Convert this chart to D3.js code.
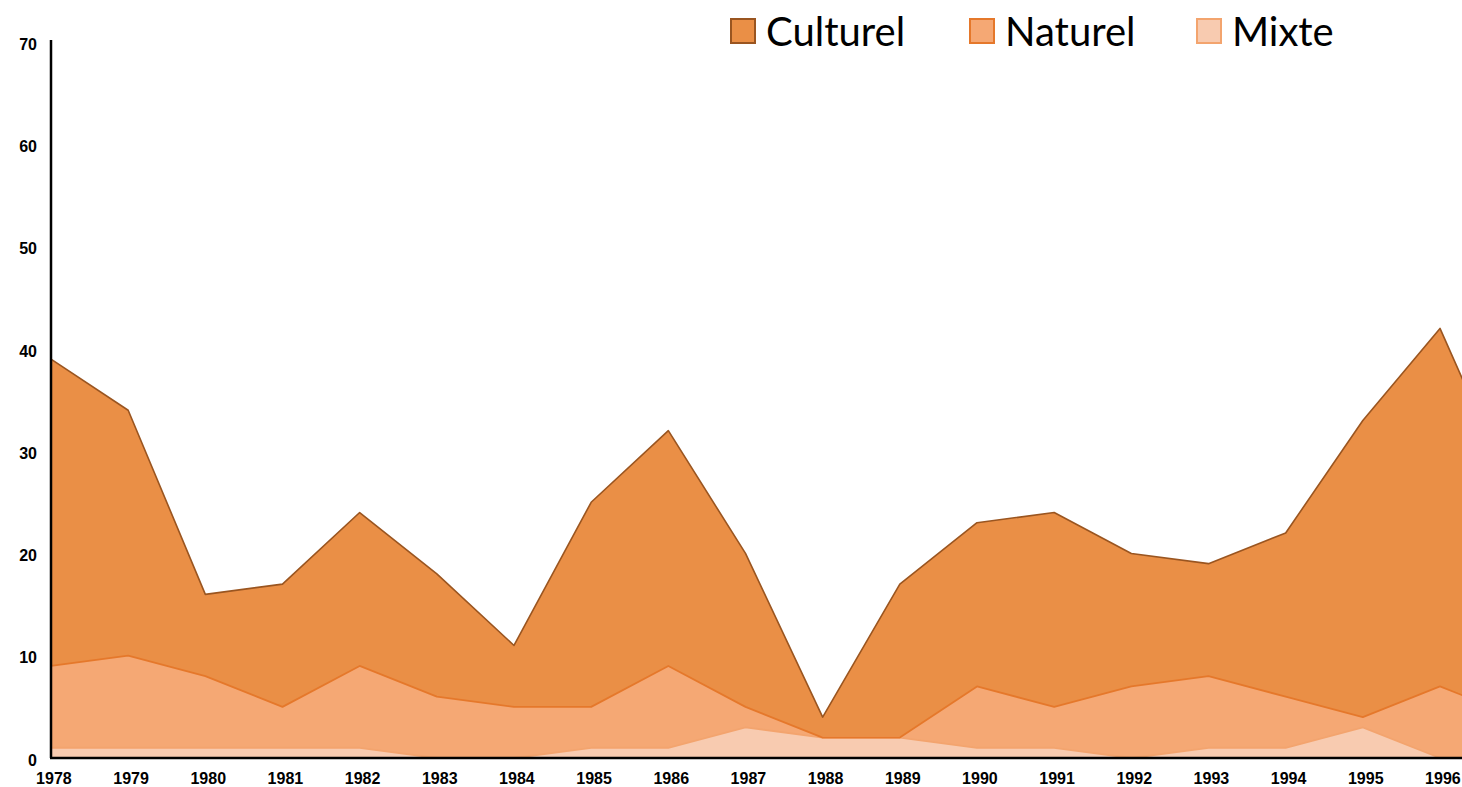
<!DOCTYPE html>
<html>
<head>
<meta charset="utf-8">
<script src="https://cdn.jsdelivr.net/npm/d3@7"></script>
<style>
  html, body { margin: 0; padding: 0; background: #fff; }
  svg { display: block; }
  .tick-label { font-family: "Liberation Sans", Arial, sans-serif; font-weight: bold; font-size: 16px; fill: #000; }
  .legend-label { font-family: Lato, "Open Sans", sans-serif; font-size: 40px; fill: #000; }
</style>
</head>
<body>
<svg id="chart" width="1462" height="787"></svg>
<script>
// data (1997 is cut by the right edge)
var years    = [1978, 1979, 1980, 1981, 1982, 1983, 1984, 1985, 1986, 1987, 1988, 1989, 1990, 1991, 1992, 1993, 1994, 1995, 1996, 1997];
var mixte    = [1, 1, 1, 1, 1, 0, 0, 1, 1, 3, 2, 2, 1, 1, 0, 1, 1, 3, 0, 0];
var naturel  = [8, 9, 7, 4, 8, 6, 5, 4, 8, 2, 0, 0, 6, 4, 7, 7, 5, 1, 7, 4];
var culturel = [30, 24, 8, 12, 15, 12, 6, 20, 23, 15, 2, 15, 16, 19, 13, 11, 16, 29, 35, 21];
var yTicks   = [0, 10, 20, 30, 40, 50, 60, 70];
var xLabels  = years.slice(0, 19);

var series = [
  { key: "mixte",    name: "Mixte",    values: mixte,    fill: "#f8cbb0", stroke: "#f3a46e" },
  { key: "naturel",  name: "Naturel",  values: naturel,  fill: "#f5a874", stroke: "#e5782b" },
  { key: "culturel", name: "Culturel", values: culturel, fill: "#ea8f46", stroke: "#9a5520" }
];

var svg = d3.select("#chart");
var mLeft = 51, mBottom = 758, mTop = 42;

var rows = years.map(function(y, i) {
  return { year: y, mixte: mixte[i], naturel: naturel[i], culturel: culturel[i] };
});

var x = d3.scaleLinear().domain([1978, 1996]).range([mLeft, 1440]);
var y = d3.scaleLinear().domain([0, 70]).range([mBottom, mTop]);

var stack = d3.stack().keys(series.map(function(s) { return s.key; }));
var layers = stack(rows);

var area = d3.area()
  .x(function(d) { return x(d.data.year); })
  .y0(function(d) { return y(d[0]); })
  .y1(function(d) { return y(d[1]); });

var topLine = d3.line()
  .x(function(d) { return x(d.data.year); })
  .y(function(d) { return y(d[1]); });

var g = svg.append("g");

layers.forEach(function(layer, i) {
  g.append("path")
    .attr("d", area(layer))
    .attr("fill", series[i].fill);
});

// outline on top of every layer, drawn after the fills
layers.forEach(function(layer, i) {
  g.append("path")
    .attr("d", topLine(layer))
    .attr("fill", "none")
    .attr("stroke", series[i].stroke)
    .attr("stroke-width", i == 2 ? 1.6 : 1.8)
    .attr("stroke-linejoin", "round");
});

// axes: just the black lines and bold labels
var yAxis = d3.axisLeft(y).tickValues(yTicks).tickSize(0).tickPadding(14);
var yg = svg.append("g").attr("transform", "translate(" + mLeft + ",0)").call(yAxis);
yg.select(".domain").attr("stroke", "#000").attr("stroke-width", 2.5)
  .attr("d", "M0," + (mTop - 2) + "V" + mBottom);
yg.selectAll("text").attr("class", "tick-label").attr("font-family", null).attr("font-size", null)
  .attr("dy", "0.45em");

var xAxis = d3.axisBottom(x).tickValues(xLabels).tickSize(0).tickPadding(15).tickFormat(d3.format("d"));
var xg = svg.append("g").attr("transform", "translate(0," + mBottom + ")").call(xAxis);
xg.select(".domain").attr("stroke", "#000").attr("stroke-width", 2.5)
  .attr("d", "M" + (mLeft - 1) + ",0H1462");
xg.selectAll("text").attr("class", "tick-label").attr("font-family", null).attr("font-size", null)
  .attr("dx", "0.15em");

// legend
var legendItems = [
  { name: "Culturel", fill: "#ea8f46", stroke: "#9a5520", x: 731 },
  { name: "Naturel",  fill: "#f5a874", stroke: "#e5782b", x: 970 },
  { name: "Mixte",    fill: "#f8cbb0", stroke: "#f3a46e", x: 1197 }
];
var lg = svg.append("g");
legendItems.forEach(function(it) {
  lg.append("rect")
    .attr("x", it.x).attr("y", 19)
    .attr("width", 24).attr("height", 24)
    .attr("fill", it.fill)
    .attr("stroke", it.stroke)
    .attr("stroke-width", 2);
  lg.append("text")
    .attr("class", "legend-label")
    .attr("x", it.x + 35).attr("y", 46)
    .text(it.name);
});
</script>
</body>
</html>
